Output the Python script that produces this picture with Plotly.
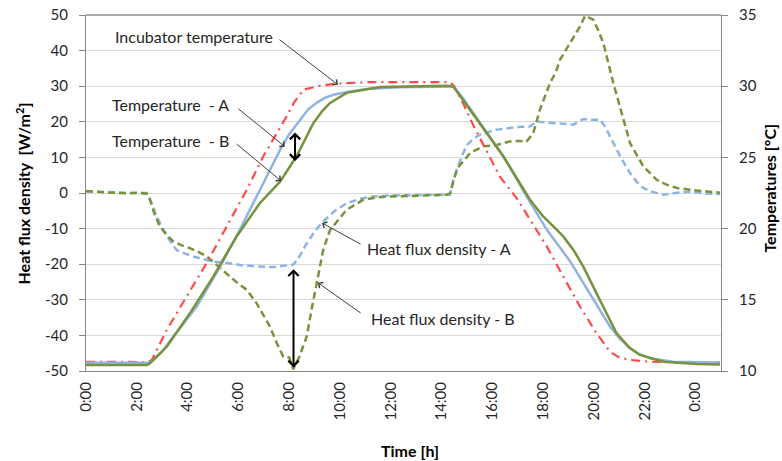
import plotly.graph_objects as go

# ---- Data ----
# Heat flux density A [W/m2]
hfa_t = [0, 0.5, 1.0, 1.5, 2.0, 2.39, 2.6, 2.78, 3.1, 3.4, 3.57, 3.82, 4.3, 5.0, 5.5, 6.06, 6.7, 7.37, 7.8,
         8.15, 8.35, 8.62, 9.0, 9.34, 9.8, 10.26, 10.8, 11.3, 12.0, 12.9, 13.6, 14.33, 14.46, 14.79, 15.0,
         15.25, 15.51, 16.17, 16.96, 17.48, 17.74, 18.1, 18.4, 18.8, 19.19, 19.58, 19.9, 20.24, 20.45, 20.63,
         20.89, 21.02, 21.2, 21.42, 21.7, 21.94, 22.3, 22.73, 23.2, 23.78, 24.3, 24.96]
hfa_v = [0.5, 0.3, 0.2, 0.1, 0.1, 0.0, -3.0, -6.6, -11.0, -14.5, -16.0, -16.8, -18.0, -19.3, -19.6, -20.2, -20.6,
         -20.8, -20.4, -20.2, -18.5, -15.0, -10.8, -8.0, -5.0, -2.9, -1.6, -1.0, -0.7, -0.5, -0.5, -0.5, 3.7,
         10.3, 13.5, 15.2, 16.4, 17.8, 18.5, 18.7, 20.1, 19.8, 19.6, 19.4, 19.2, 20.8, 20.6, 20.6, 18.5, 15.9,
         12.1, 10.5, 8.2, 5.6, 3.0, 1.4, 0.3, -0.5, 0.0, 0.4, -0.1, -0.3]

# Heat flux density B [W/m2]
hfb_t = [0, 0.5, 1.0, 1.5, 2.0, 2.4, 2.52, 2.7, 2.91, 3.2, 3.44, 3.8, 4.09, 4.4, 4.75, 5.14, 5.4, 5.67, 6.0,
         6.33, 6.72, 7.0, 7.24, 7.5, 7.77, 8.0, 8.16, 8.4, 8.69, 8.9, 9.08, 9.34, 9.6, 10.26, 10.92, 11.5,
         11.97, 13.0, 14.2, 14.33, 14.6, 14.72, 15.12, 15.25, 15.64, 16.17, 16.69, 17.0, 17.35, 17.61, 17.87,
         18.27, 18.5, 18.66, 19.06, 19.45, 19.65, 19.97, 20.15, 20.37, 20.76, 21.15, 21.42, 21.94, 22.47,
         22.8, 23.26, 24.04, 24.5, 24.96]
hfb_v = [0.5, 0.4, 0.1, -0.1, 0.0, -0.2, -1.9, -6.0, -9.4, -12.0, -13.6, -14.8, -15.5, -16.5, -17.8, -20.2,
         -21.8, -23.5, -25.5, -27.2, -31.0, -34.5, -37.5, -42.0, -46.0, -46.2, -49.5, -46.0, -40.3, -32.0,
         -25.3, -16.0, -10.5, -4.7, -1.9, -1.2, -1.0, -0.7, -0.5, 0.0, 6.5, 7.8, 11.2, 11.7, 13.1, 13.5, 14.5,
         14.6, 14.5, 16.8, 23.4, 30.9, 34.0, 37.4, 42.1, 46.8, 49.8, 48.7, 46.0, 42.1, 30.9, 20.6, 14.0, 7.5,
         3.7, 2.5, 1.4, 0.7, 0.3, 0.1]

# Incubator temperature [°C]
inc_t = [0, 1.0, 2.0, 2.45, 2.59, 3.18, 3.96, 4.75, 5.54, 6.33, 6.98, 7.37, 7.9, 8.2, 8.56, 9.21, 9.87, 11.05,
         14.33, 14.5, 14.86, 15.25, 15.77, 16.3, 16.96, 17.48, 17.74, 18.14, 18.79, 19.45, 20.1, 20.63, 21.0,
         21.42, 22.2, 23.0, 24.96]
inc_v = [10.65, 10.63, 10.6, 10.63, 10.78, 12.88, 15.23, 17.58, 20.15, 22.73, 25.08, 26.25, 27.88, 28.88,
         29.75, 30.03, 30.18, 30.28, 30.28, 30.0, 28.75, 27.25, 25.43, 23.63, 22.13, 20.63, 19.93, 18.75,
         16.63, 14.53, 12.65, 11.35, 10.95, 10.78, 10.65, 10.63, 10.6]

# Temperature A [°C]
ta_t = [0, 2.5, 2.65, 3.0, 3.44, 4.36, 5.28, 6.06, 6.85, 7.64, 8.0, 8.43, 8.75, 9.08, 9.4, 9.74, 10.39, 11.05,
        12.36, 14.33, 14.46, 14.8, 15.51, 16.43, 17.35, 18.14, 19.06, 19.84, 20.63, 21.0, 21.42, 21.8, 22.2,
        23.12, 24.96]
ta_v = [10.58, 10.58, 10.78, 11.38, 12.43, 14.53, 17.33, 19.93, 22.73, 25.53, 26.63, 27.65, 28.38, 28.83,
        29.18, 29.4, 29.63, 29.8, 29.93, 29.98, 29.98, 29.25, 27.4, 25.08, 22.25, 19.93, 17.7, 15.45, 13.13,
        12.3, 11.6, 11.18, 10.9, 10.65, 10.6]

# Temperature B [°C]
tb_t = [0, 2.4, 2.52, 3.18, 4.09, 5.01, 5.93, 6.85, 7.64, 8.29, 8.95, 9.3, 9.61, 10.26, 11.57, 14.2, 14.46,
        14.8, 15.51, 16.43, 17.48, 18.0, 18.4, 18.79, 19.19, 19.58, 20.1, 20.89, 21.4, 21.81, 22.73, 24.04,
        24.96]
tb_v = [10.43, 10.43, 10.55, 11.7, 14.05, 16.63, 19.45, 21.8, 23.3, 25.08, 27.4, 28.25, 28.83, 29.53, 29.95,
        30.03, 29.98, 29.13, 27.3, 25.08, 22.03, 20.85, 20.15, 19.45, 18.5, 17.33, 15.45, 12.65, 11.63, 11.13,
        10.65, 10.5, 10.45]

x_tickvals = [0, 2, 4, 6, 8, 10, 12, 14, 16, 18, 20, 22, 24]
x_ticktext = ["0:00", "2:00", "4:00", "6:00", "8:00", "10:00", "12:00", "14:00", "16:00", "18:00", "20:00",
              "22:00", "0:00"]
y1_tickvals = [50, 40, 30, 20, 10, 0, -10, -20, -30, -40, -50]
y1_ticktext = ["50", "40", "30", "20", "10", "0", "-10", "-20", "-30", "-40", "-50"]
y2_tickvals = [10, 15, 20, 25, 30, 35]

# ---- Styles ----
BLUE = "#8EB4E3"
GREEN = "#77933C"
RED = "#FF4A4A"
FONT = "Lato, Carlito, 'Open Sans', sans-serif"
TXT = "#262626"
AX = "#868686"

fig = go.Figure()
fig.add_trace(go.Scatter(x=hfa_t, y=hfa_v, mode="lines", name="Heat flux density - A",
                         line=dict(color=BLUE, width=2.5, dash="7px,4px")))
fig.add_trace(go.Scatter(x=hfb_t, y=hfb_v, mode="lines", name="Heat flux density - B",
                         line=dict(color=GREEN, width=2.5, dash="7px,4px")))
fig.add_trace(go.Scatter(x=inc_t, y=inc_v, mode="lines", name="Incubator temperature", yaxis="y2",
                         line=dict(color=RED, width=2.2, dash="9px,5px,2px,5px")))
fig.add_trace(go.Scatter(x=ta_t, y=ta_v, mode="lines", name="Temperature - A", yaxis="y2",
                         line=dict(color=BLUE, width=2.5)))
fig.add_trace(go.Scatter(x=tb_t, y=tb_v, mode="lines", name="Temperature - B", yaxis="y2",
                         line=dict(color=GREEN, width=2.5)))

ann = []
def label(x, y, text, anchor):
    ann.append(dict(x=x, y=y, xref="x", yref="y", text=text, showarrow=False, xanchor=anchor,
                    yanchor="middle", font=dict(family=FONT, size=16, color=TXT)))

def arrow(x, y, ax, ay, width=1, head=4, size=1.3, side="end", color="#404040"):
    ann.append(dict(x=x, y=y, ax=ax, ay=ay, xref="x", yref="y", axref="x", ayref="y", text="",
                    showarrow=True, arrowhead=head, arrowsize=size, arrowwidth=width,
                    arrowcolor=color, arrowside=side, startarrowhead=head, startarrowsize=size))

label(7.44, 43.9, "Incubator temperature", "right")
arrow(9.92, 30.4, 7.56, 43.4)
label(5.71, 24.8, "Temperature  - A", "right")
arrow(7.83, 13.0, 5.94, 24.0)
label(5.71, 14.75, "Temperature  - B", "right")
arrow(7.68, 3.4, 5.87, 14.1)
label(11.0, -15.5, "Heat flux density - A", "left")
arrow(9.29, -8.4, 10.87, -14.6)
label(11.16, -35.2, "Heat flux density - B", "left")
arrow(9.13, -25.2, 10.87, -34.0)
# double-headed thick arrows
arrow(8.23, 9.0, 8.23, 17.4, width=2, head=4, size=1.0, side="end+start", color="#000000")
arrow(8.17, -49.0, 8.17, -21.0, width=2, head=4, size=1.0, side="end+start", color="#000000")

# axis titles
TITLE_FONT = dict(family=FONT, size=16, color="#000000", weight="bold")
ann.append(dict(x=-0.099, y=0.499, xref="paper", yref="paper", text="Heat flux density  [W/m<sup>2</sup>]",
                textangle=-90, showarrow=False, xanchor="center", yanchor="middle", font=TITLE_FONT))
ann.append(dict(x=1.077, y=0.515, xref="paper", yref="paper", text="Temperatures [°C]",
                textangle=-90, showarrow=False, xanchor="center", yanchor="middle", font=TITLE_FONT))
ann.append(dict(x=0.51, y=-0.222, xref="paper", yref="paper", text="Time [h]",
                showarrow=False, xanchor="center", yanchor="middle", font=TITLE_FONT))

# darker top border of the plot area
shapes = [dict(type="line", xref="paper", yref="paper", x0=0, x1=1, y0=1, y1=1,
               line=dict(color="#595959", width=1))]

fig.update_layout(
    width=782, height=461,
    margin=dict(l=86, r=61, t=15, b=90),
    paper_bgcolor="white", plot_bgcolor="white",
    showlegend=False,
    font=dict(family=FONT, size=15, color=TXT),
    xaxis=dict(range=[0, 25], tickvals=x_tickvals, ticktext=x_ticktext, tickangle=-90,
               showgrid=False, zeroline=False, showline=True, linecolor=AX, linewidth=1,
               ticks="", ticklabelstandoff=4, automargin=False,
               tickfont=dict(family=FONT, size=15, color=TXT)),
    yaxis=dict(range=[-50, 50], tickvals=y1_tickvals, ticktext=y1_ticktext, showgrid=True,
               gridcolor="#D9D9D9", gridwidth=1, zeroline=False, showline=True, linecolor=AX,
               ticks="outside", ticklen=6, tickcolor=AX, ticklabelstandoff=8, automargin=False,
               tickfont=dict(family=FONT, size=15, color=TXT)),
    yaxis2=dict(range=[10, 35], tickvals=y2_tickvals, overlaying="y", side="right", showgrid=False,
                zeroline=False, showline=True, linecolor=AX, ticks="outside", ticklen=6, tickcolor=AX,
                ticklabelstandoff=8, automargin=False, tickfont=dict(family=FONT, size=15, color=TXT)),
    annotations=ann,
    shapes=shapes,
)

# remove the page's default 8px body margin so the figure sits at the window's top-left corner
fig.write_html("out.html", config={"displayModeBar": False},
               post_script="document.body.style.margin='0px';")
